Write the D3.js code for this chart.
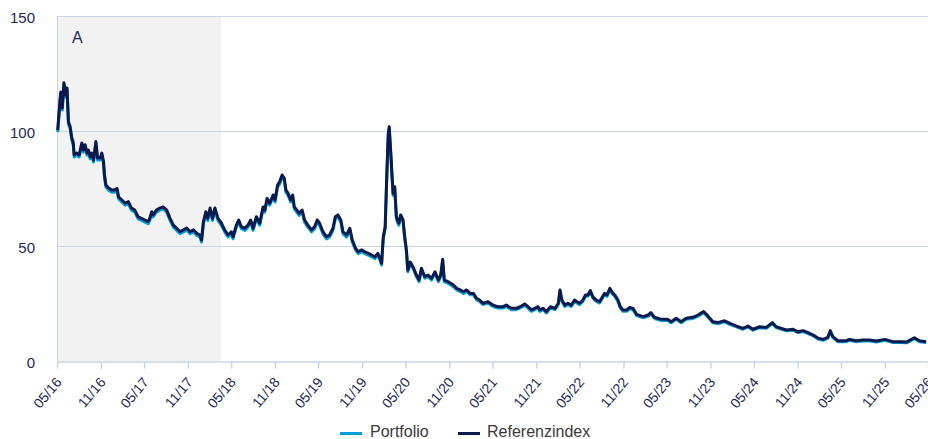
<!DOCTYPE html>
<html>
<head>
<meta charset="utf-8">
<script src="https://cdn.jsdelivr.net/npm/d3@7/dist/d3.min.js"></script>
<style>
  html, body { margin: 0; padding: 0; background: #fff; }
  svg { display: block; font-family: "Liberation Sans", Arial, Helvetica, sans-serif; }
</style>
</head>
<body>
<svg id="chart" width="928" height="439"></svg>
<script>
// ---------- DATA ----------
const seriesNames = ["Portfolio", "Referenzindex"];
const dates = [
"2016-05-04","2016-05-13","2016-05-17","2016-05-23","2016-05-30","2016-06-07","2016-06-12","2016-06-18","2016-06-25","2016-07-02",
"2016-07-08","2016-07-12","2016-07-22","2016-08-02","2016-08-13","2016-08-20","2016-08-27","2016-09-04","2016-09-10","2016-09-17",
"2016-09-24","2016-10-01","2016-10-11","2016-10-18","2016-10-29","2016-11-05","2016-11-12","2016-11-16","2016-11-22","2016-12-03",
"2016-12-17","2016-12-28","2017-01-08","2017-01-14","2017-01-28","2017-02-11","2017-02-24","2017-03-09","2017-03-23","2017-04-06",
"2017-04-20","2017-05-04","2017-05-18","2017-05-25","2017-06-02","2017-06-08","2017-06-22","2017-07-06","2017-07-20","2017-08-04",
"2017-08-18","2017-09-01","2017-09-15","2017-09-29","2017-10-13","2017-10-27","2017-11-10","2017-11-24","2017-12-08","2017-12-21",
"2017-12-28","2018-01-05","2018-01-15","2018-01-23","2018-02-02","2018-02-12","2018-02-22","2018-03-07","2018-03-21","2018-04-04",
"2018-04-18","2018-05-02","2018-05-09","2018-05-23","2018-06-02","2018-06-13","2018-06-27","2018-07-11","2018-07-22","2018-08-01",
"2018-08-15","2018-08-29","2018-09-12","2018-09-19","2018-09-29","2018-10-10","2018-10-24","2018-11-01","2018-11-12","2018-11-21",
"2018-12-01","2018-12-10","2018-12-17","2018-12-26","2019-01-06","2019-01-14","2019-01-21","2019-02-01","2019-02-10","2019-02-23",
"2019-03-05","2019-03-19","2019-04-03","2019-04-16","2019-04-27","2019-05-07","2019-05-21","2019-06-05","2019-06-18","2019-07-02",
"2019-07-12","2019-07-23","2019-08-04","2019-08-13","2019-08-28","2019-09-11","2019-09-21","2019-10-05","2019-10-16","2019-10-30",
"2019-11-13","2019-11-27","2019-12-11","2019-12-25","2020-01-06","2020-01-15","2020-01-22","2020-01-29","2020-02-06","2020-02-13",
"2020-02-19","2020-02-23","2020-02-28","2020-03-03","2020-03-10","2020-03-17","2020-03-24","2020-04-03","2020-04-11","2020-04-21",
"2020-04-28","2020-05-05","2020-05-11","2020-05-21","2020-06-02","2020-06-16","2020-06-27","2020-07-07","2020-07-21","2020-08-04",
"2020-08-18","2020-09-02","2020-09-16","2020-09-26","2020-10-04","2020-10-11","2020-10-27","2020-11-18","2020-12-02","2020-12-16",
"2020-12-30","2021-01-13","2021-01-27","2021-02-10","2021-02-23","2021-03-08","2021-03-22","2021-04-12","2021-05-03","2021-05-24",
"2021-06-14","2021-06-28","2021-07-19","2021-08-09","2021-08-30","2021-09-13","2021-09-27","2021-10-11","2021-10-25","2021-11-08",
"2021-11-15","2021-11-29","2021-12-13","2021-12-30","2022-01-18","2022-02-01","2022-02-08","2022-02-16","2022-02-28","2022-03-13",
"2022-03-27","2022-04-10","2022-04-20","2022-05-01","2022-05-15","2022-05-26","2022-06-05","2022-06-15","2022-06-26","2022-07-10",
"2022-07-24","2022-08-05","2022-08-14","2022-08-24","2022-09-05","2022-09-16","2022-09-26","2022-10-09","2022-10-19","2022-10-30",
"2022-11-14","2022-11-28","2022-12-11","2022-12-26","2023-01-23","2023-02-13","2023-02-24","2023-03-11","2023-04-09","2023-05-06",
"2023-05-20","2023-06-10","2023-07-01","2023-07-22","2023-08-19","2023-09-10","2023-10-03","2023-10-21","2023-11-11","2023-12-02",
"2023-12-30","2024-01-21","2024-02-18","2024-03-16","2024-04-06","2024-04-27","2024-05-25","2024-06-22","2024-07-17","2024-08-03",
"2024-08-24","2024-09-15","2024-10-12","2024-11-02","2024-11-23","2024-12-14","2025-01-05","2025-01-26","2025-02-15","2025-03-07",
"2025-03-17","2025-03-28","2025-04-18","2025-05-23","2025-06-06","2025-07-04","2025-08-01","2025-08-30","2025-09-27","2025-11-01",
"2025-12-05","2026-01-03","2026-02-01","2026-03-05","2026-03-26","2026-04-23"
];
const referenzindex = [
100.4,112.7,117,110,121,115.6,118.7,104,102,97,
95,89.6,90.4,89.6,94.8,91.7,94,90.4,91.7,88.8,
90.4,87.4,95.4,88.3,88.3,90.4,86.7,80.9,76.5,75.2,
74.3,74.3,75,71.4,70,68.6,69.3,66.5,65.6,62.7,
62,61.3,60.6,62,64.9,63.5,65.6,66.5,67,65.6,
62,59.1,57.7,56.2,57,57.8,56.2,57,55.5,54.8,
52.6,60.6,64.9,62,66.5,62,66.5,62,60,57,
54.8,56.2,54,59.1,61.3,58.4,57.7,59.1,61.3,57.7,
62.7,59.9,67,65.6,70.7,68.6,72.2,70,76.5,78,
80.9,79.4,74.3,72.9,70,72.2,67,65.6,64.2,65.6,
61.3,59.1,57,58.4,61.3,59.9,56.2,54,54.8,57.7,
62.7,63.5,61.3,56.2,54.8,57.7,52.6,49,47.5,48.3,
47.5,46.8,46.1,45.3,46.8,44.7,42.5,54,58.4,81.6,
99,101.9,93.2,86,72.9,75.8,62.7,59.9,63.5,61.3,
54,48.3,39.5,43,40.9,37.4,35.2,40.3,36.7,37.4,
35.9,38.8,35.2,37.4,44.2,35.2,34.5,33,31.6,30.9,
30.1,30.9,29.4,29.4,27.3,26.5,25.1,25.8,24.3,23.6,
23.6,24.3,22.9,22.9,23.9,24.8,23.6,22.2,22.9,23.6,
22.2,22.9,21.5,23.6,22.9,25.1,30.9,26.5,24.3,25.1,
24.3,26.5,25.8,25.1,26.5,28.7,28.7,30.6,27.9,26.5,
25.8,27.9,29.4,28.7,31.6,29.7,28.7,26.5,23.6,22.2,
22.2,23.3,22.9,20.3,19.3,20,21,19,18.1,18.1,
17.1,18.6,17.1,18.6,19,20,21.5,19.6,17.1,16.7,
17.5,16.4,15.2,14.2,15.2,13.8,14.9,14.6,16.7,14.9,
14.2,13.5,13.8,12.7,13.2,12.3,11.3,9.9,9.4,10.3,
13.2,10.6,8.8,8.8,9.4,8.8,9.1,9.1,8.7,9.4,
8.4,8.4,8.3,10.1,8.8,8.4
];
const portfolio = [
99.5,111.7,116,109.1,120,114.6,117.7,103.1,101.1,96.1,
94.1,88.7,89.5,88.7,93.9,90.8,93.1,89.5,90.8,87.9,
89.5,86.5,94.5,87.4,87.4,89.5,85.8,80,75.6,74.3,
73.4,73.4,74.1,70.5,69.1,67.7,68.4,65.6,64.7,61.8,
61.1,60.4,59.7,61.1,64,62.6,64.7,65.6,66.1,64.7,
61.1,58.2,56.8,55.3,56.1,56.9,55.3,56.1,54.6,53.9,
51.7,59.7,64,61.1,65.6,61.1,65.6,61.1,59.1,56.1,
53.9,55.3,53.1,58.2,60.4,57.5,56.8,58.2,60.4,56.8,
61.8,59,66.1,64.7,69.8,67.7,71.3,69.1,75.6,77.1,
80,78.5,73.4,72,69.1,71.3,66.1,64.7,63.3,64.7,
60.4,58.2,56.1,57.5,60.4,59,55.3,53.1,53.9,56.8,
61.8,62.6,60.4,55.3,53.9,56.8,51.8,48.2,46.7,47.5,
46.7,46,45.3,44.5,46,43.9,41.7,53.1,57.5,80.6,
98,100.9,92.2,85.1,72,74.9,61.8,59,62.6,60.4,
53.2,47.5,38.8,42.3,40.2,36.7,34.5,39.6,36,36.7,
35.2,38.1,34.5,36.7,43.5,34.5,33.8,32.3,30.9,30.2,
29.4,30.2,28.8,28.8,26.7,25.9,24.5,25.2,23.7,23,
23,23.7,22.3,22.3,23.3,24.2,23,21.6,22.3,23,
21.6,22.3,20.9,23,22.3,24.5,30.2,25.9,23.7,24.5,
23.7,25.9,25.2,24.5,25.9,28.1,28.1,30,27.3,25.9,
25.2,27.3,28.8,28.1,30.9,29.1,28.1,25.9,23,21.6,
21.6,22.7,22.3,19.8,18.8,19.5,20.5,18.5,17.6,17.6,
16.6,18.1,16.6,18.1,18.5,19.5,21,19.1,16.6,16.2,
17,15.9,14.8,13.8,14.8,13.4,14.5,14.2,16.3,14.5,
13.8,13.1,13.4,12.3,12.8,11.9,10.9,9.5,9,9.9,
12.8,10.2,8.4,8.4,9,8.4,8.7,8.7,8.3,9,
8,8,7.9,9.7,8.4,8
];
const yTicks = [0, 50, 100, 150];
const shadedPeriod = ["2016-05-01", "2018-03-20"];
const shadedLabel = "A";
const xDomain = ["2016-05-01", "2026-05-01"];

// ---------- CHART ----------
const parse = d3.timeParse("%Y-%m-%d");
const svg = d3.select("#chart");
const plotL = 57, plotR = 928, plotT = 16, plotB = 361;
const gridColor = "#c8d5e8";
const textColor = "#1b2a58";

const x = d3.scaleTime().domain(xDomain.map(parse)).range([plotL, plotR]);
const y = d3.scaleLinear().domain([0, 150]).range([plotB, plotT]);

// shaded band
svg.append("rect")
  .attr("x", x(parse(shadedPeriod[0])))
  .attr("y", y(150))
  .attr("width", x(parse(shadedPeriod[1])) - x(parse(shadedPeriod[0])))
  .attr("height", y(0) - y(150))
  .attr("fill", "#f2f2f2");

svg.append("text")
  .attr("x", x(parse(shadedPeriod[0])) + 15)
  .attr("y", 43)
  .attr("font-size", 16)
  .attr("fill", textColor)
  .text(shadedLabel);

// horizontal grid
svg.append("g").selectAll("line")
  .data(yTicks.filter(d => d > 0))
  .join("line")
  .attr("x1", plotL).attr("x2", plotR)
  .attr("y1", d => y(d) + 0.5).attr("y2", d => y(d) + 0.5)
  .attr("stroke", gridColor).attr("stroke-width", 1);

// left axis line
svg.append("line")
  .attr("x1", plotL + 0.5).attr("x2", plotL + 0.5)
  .attr("y1", y(150)).attr("y2", y(0))
  .attr("stroke", gridColor).attr("stroke-width", 1);

// y labels
svg.append("g").selectAll("text")
  .data(yTicks)
  .join("text")
  .attr("x", 35)
  .attr("y", d => y(d) + 7)
  .attr("text-anchor", "end")
  .attr("font-size", 15)
  .attr("fill", textColor)
  .text(d => d);

// x axis
const xTickDates = d3.timeMonth.range(parse("2016-05-01"), parse("2026-05-02"))
  .filter(d => d.getMonth() === 4 || d.getMonth() === 10);
const xAxis = d3.axisBottom(x)
  .tickValues(xTickDates)
  .tickFormat(d3.timeFormat("%m/%y"))
  .tickSize(7)
  .tickSizeOuter(0);
const gx = svg.append("g")
  .attr("transform", `translate(0,${plotB + 0.5})`)
  .call(xAxis);
gx.select(".domain").attr("stroke", gridColor).attr("stroke-width", 1.5);
gx.selectAll(".tick line").attr("stroke", gridColor).attr("stroke-width", 1.5);
gx.selectAll(".tick text")
  .attr("fill", textColor)
  .attr("font-size", 14)
  .attr("font-family", "Liberation Sans, Arial, sans-serif")
  .attr("text-anchor", "end")
  .attr("dy", null)
  .attr("y", 0)
  .attr("x", 0)
  .attr("transform", "translate(5,21) rotate(-50)");

// lines
const line = (vals) => d3.line()
  .x((d, i) => x(parse(dates[i])))
  .y(d => y(d))
  .curve(d3.curveLinear)(vals);

svg.append("path")
  .attr("d", line(portfolio))
  .attr("fill", "none")
  .attr("stroke", "#00a0de")
  .attr("stroke-width", 3)
  .attr("stroke-linejoin", "round");

svg.append("path")
  .attr("d", line(referenzindex))
  .attr("fill", "none")
  .attr("stroke", "#0a1a4d")
  .attr("stroke-width", 3)
  .attr("stroke-linejoin", "round");

// legend
const legend = [
  { name: seriesNames[0], color: "#00a0de", x1: 340, x2: 362, tx: 370 },
  { name: seriesNames[1], color: "#0a1a4d", x1: 458, x2: 480, tx: 487 }
];
const lg = svg.append("g");
legend.forEach(l => {
  lg.append("line")
    .attr("x1", l.x1).attr("x2", l.x2)
    .attr("y1", 433.5).attr("y2", 433.5)
    .attr("stroke", l.color).attr("stroke-width", 3);
  lg.append("text")
    .attr("x", l.tx).attr("y", 437)
    .attr("font-size", 16)
    .attr("fill", "#3a3a3a")
    .text(l.name);
});
</script>
</body>
</html>
